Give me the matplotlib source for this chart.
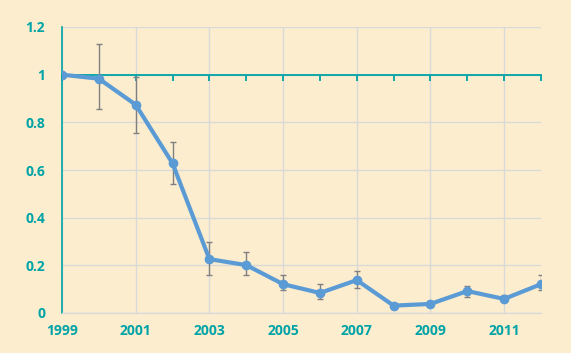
import matplotlib
matplotlib.use("Agg")
import matplotlib.pyplot as plt
from matplotlib.markers import TICKDOWN
import numpy as np

years = [1999, 2000, 2001, 2002, 2003, 2004, 2005, 2006, 2007, 2008, 2009, 2010, 2011, 2012]
values = [1.0, 0.983, 0.874, 0.628, 0.226, 0.201, 0.121, 0.084, 0.138, 0.031, 0.038, 0.092, 0.059, 0.121]
err_low = [1.0, 0.854, 0.757, 0.540, 0.159, 0.159, 0.096, 0.059, 0.105, 0.026, 0.032, 0.067, 0.050, 0.096]
err_high = [1.0, 1.130, 0.992, 0.716, 0.297, 0.255, 0.159, 0.121, 0.176, 0.036, 0.048, 0.113, 0.076, 0.159]
xtick_labels = ["1999", "2001", "2003", "2005", "2007", "2009", "2011"]
ytick_vals = [0, 0.2, 0.4, 0.6, 0.8, 1.0, 1.2]
ytick_labels = ["0", "0.2", "0.4", "0.6", "0.8", "1", "1.2"]
axis_cross = 1.0

bg = "#FDEDCF"
teal = "#00A3A6"
blue = "#5B9BD5"
grid = "#D9D9D9"

fig = plt.figure(figsize=(5.71, 3.53), dpi=100, facecolor=bg)
ax = fig.add_axes([62/571, 40/353, (541-62)/571, (313-27)/353])
ax.set_facecolor(bg)

# axis line crossing at 1 with tick marks pointing down
ax.plot(years, [axis_cross] * len(years), color=teal, linewidth=1.3, marker=TICKDOWN,
        markersize=4, markeredgewidth=1.3, zorder=2, clip_on=False)

v = np.array(values)
yerr = [v - np.array(err_low), np.array(err_high) - v]
ax.errorbar(years, values, yerr=yerr, fmt="none", ecolor="#808080", elinewidth=1, capsize=2.5, capthick=1, zorder=3)
ax.plot(years, values, color=blue, linewidth=3.0, marker="o", markersize=6, zorder=4)

ax.set_xlim(1999, 2012)
ax.set_ylim(0, 1.2)
xt = [int(s) for s in xtick_labels]
ax.set_xticks(xt)
ax.set_xticklabels(xtick_labels)
ax.set_yticks(ytick_vals)
ax.set_yticklabels(ytick_labels)
ax.grid(True, color=grid, linewidth=1, zorder=0)
ax.set_axisbelow(True)

for s in ["top", "right"]:
    ax.spines[s].set_visible(False)
ax.spines["bottom"].set_color(grid)
ax.spines["bottom"].set_linewidth(1)
ax.spines["left"].set_color(teal)
ax.spines["left"].set_linewidth(1.2)
ax.tick_params(axis="both", length=0, colors=teal, labelsize=10, pad=8)
for lab in ax.get_xticklabels() + ax.get_yticklabels():
    lab.set_fontweight("bold")
    lab.set_family("Open Sans")
ax.tick_params(axis="y", pad=12)

fig.savefig("out.png", dpi=100, facecolor=bg)
